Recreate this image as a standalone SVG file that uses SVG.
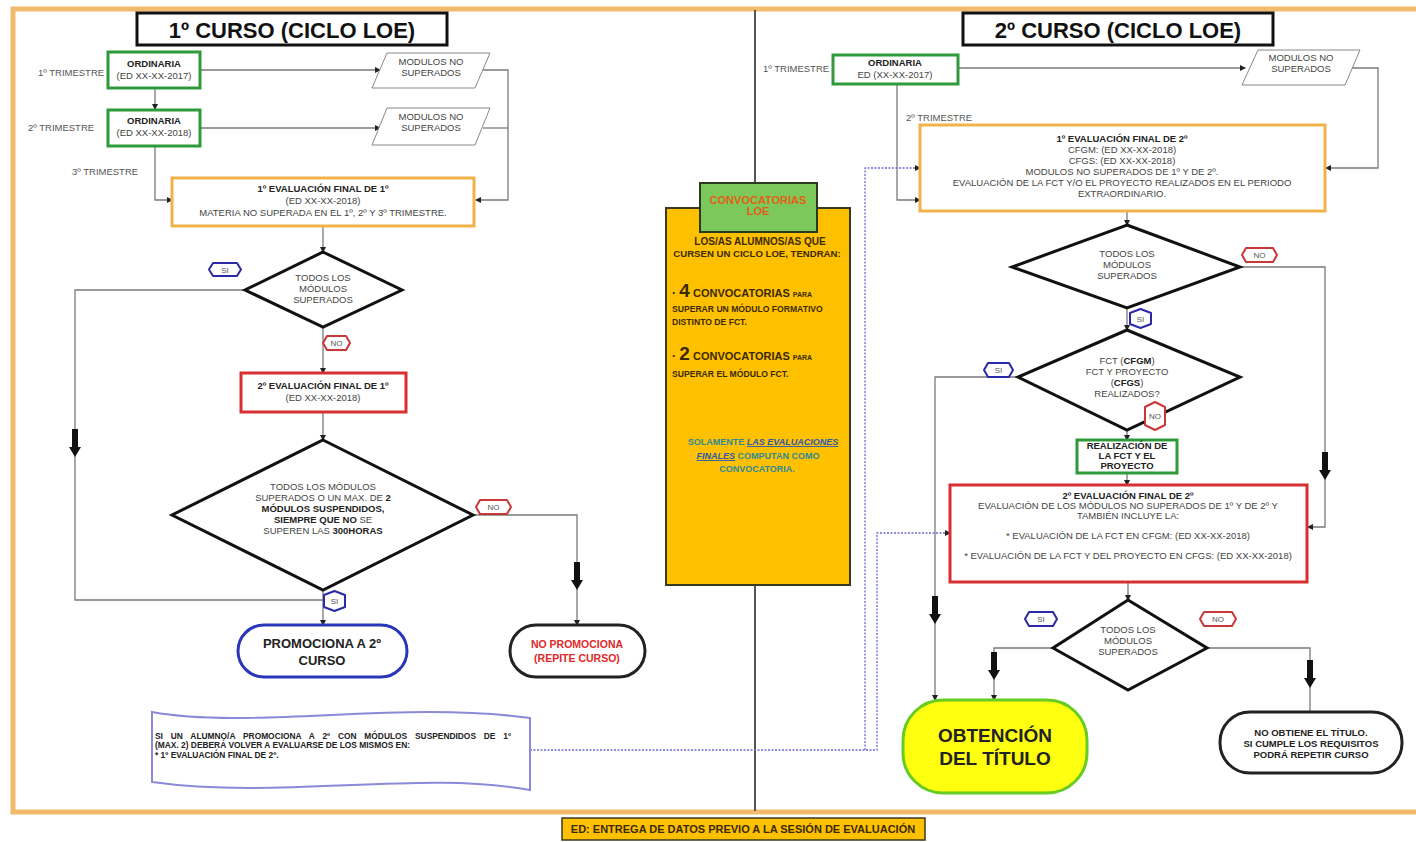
<svg xmlns="http://www.w3.org/2000/svg" width="1416" height="842" viewBox="0 0 1416 842">
<style>
text{font-family:"Liberation Sans",Arial,sans-serif;fill:#444;font-size:9.5px;text-anchor:middle}
.b{font-weight:bold;fill:#222}
.lbl{font-size:9.5px;fill:#555;text-anchor:start}
.title{font-size:22px;font-weight:bold;fill:#111}
.c{stroke:#7a7a7a;stroke-width:1.3;fill:none}
.cd{stroke:#6a6ad0;stroke-width:1.3;fill:none;stroke-dasharray:2 1.5}
.green{fill:#fff;stroke:#2e9a3a;stroke-width:3}
.orange{fill:#fff;stroke:#f2b24a;stroke-width:3}
.red{fill:#fff;stroke:#d83030;stroke-width:3}
.dia{fill:#fff;stroke:#111;stroke-width:3}
.para{fill:#fff;stroke:#888;stroke-width:1}
.si{fill:#fff;stroke:#2a2aa8;stroke-width:2;stroke-linejoin:round}
.no{fill:#fff;stroke:#c83838;stroke-width:2;stroke-linejoin:round}
.tag{font-size:8px;fill:#555}
.cal{font-family:"Liberation Sans",sans-serif;font-weight:bold;fill:#3a2a08}
</style>
<defs>
<marker id="ah" markerWidth="6" markerHeight="6" refX="5" refY="3" orient="auto" markerUnits="userSpaceOnUse">
<path d="M0,0 L6,3 L0,6 Z" fill="#222"/>
</marker>
<path id="big" d="M-3,-16 H3 V2 H6 L0,12 L-6,2 H-3 Z" fill="#111"/>
</defs>
<rect width="1416" height="842" fill="#fff"/>
<rect x="13" y="9" width="1420" height="803" fill="none" stroke="#f2bb6c" stroke-width="5"/>
<line x1="755" y1="10" x2="755" y2="185" stroke="#555" stroke-width="2"/>
<line x1="755" y1="585" x2="755" y2="811" stroke="#555" stroke-width="2"/>

<g id="title1"><rect x="137" y="13" width="310" height="32" fill="#fff" stroke="#111" stroke-width="3"/><text class="title" x="292" y="38">1º CURSO (CICLO LOE)</text></g>
<g id="title2"><rect x="963" y="13" width="310" height="32" fill="#fff" stroke="#111" stroke-width="3"/><text class="title" x="1118" y="38">2º CURSO (CICLO LOE)</text></g>

<g id="connectors">
<path class="c" d="M200,70 H380" marker-end="url(#ah)"/>
<path class="c" d="M155,88 V109" marker-end="url(#ah)"/>
<path class="c" d="M200,128 H380" marker-end="url(#ah)"/>
<path class="c" d="M483,70 H508 V200 H476" marker-end="url(#ah)"/>
<path class="c" d="M483,128 H508"/>
<path class="c" d="M155,146 V200 H172" marker-end="url(#ah)"/>
<path class="c" d="M323,226 V252" marker-end="url(#ah)"/>
<path class="c" d="M245,290 H75 V600 H323"/>
<path class="c" d="M323,327 V373" marker-end="url(#ah)"/>
<path class="c" d="M323,412 V440" marker-end="url(#ah)"/>
<path class="c" d="M323,590 V625" marker-end="url(#ah)"/>
<path class="c" d="M473,515 H577 V625" marker-end="url(#ah)"/>
<path class="c" d="M958,68 H1245" marker-end="url(#ah)"/>
<path class="c" d="M1352,68 H1378 V168 H1326" marker-end="url(#ah)"/>
<path class="c" d="M897,84 V200 H920" marker-end="url(#ah)"/>
<path class="c" d="M1127,211 V225" marker-end="url(#ah)"/>
<path class="c" d="M1240,267 H1325 V527 H1308" marker-end="url(#ah)"/>
<path class="c" d="M1127,308 V330" marker-end="url(#ah)"/>
<path class="c" d="M1018,377 H935 V700" marker-end="url(#ah)"/>
<path class="c" d="M1127,430 V440" marker-end="url(#ah)"/>
<path class="c" d="M1127,473 V485" marker-end="url(#ah)"/>
<path class="c" d="M1128,582 V600" marker-end="url(#ah)"/>
<path class="c" d="M1053,648 H994 V700" marker-end="url(#ah)"/>
<path class="c" d="M1207,648 H1310 V733" marker-end="url(#ah)"/>
<path class="cd" d="M530,750 H877 V533 H950" marker-end="url(#ah)"/>
<path class="cd" d="M865,750 V168 H920" marker-end="url(#ah)"/>
<use href="#big" x="75" y="445"/>
<use href="#big" x="577" y="578"/>
<use href="#big" x="1325" y="468"/>
<use href="#big" x="935" y="612"/>
<use href="#big" x="994" y="668"/>
<use href="#big" x="1310" y="676"/>
</g>

<g id="l-trim-labels">
<text class="lbl" x="38" y="76">1º TRIMESTRE</text>
<text class="lbl" x="28" y="131">2º TRIMESTRE</text>
<text class="lbl" x="72" y="175">3º TRIMESTRE</text>
</g>
<g id="ord1"><rect class="green" x="108" y="52" width="92" height="36"/><text class="b" x="154" y="67">ORDINARIA</text><text x="154" y="79">(ED XX-XX-2017)</text></g>
<g id="ord2"><rect class="green" x="108" y="110" width="92" height="36"/><text class="b" x="154" y="124">ORDINARIA</text><text x="154" y="136">(ED XX-XX-2018)</text></g>
<g id="mns1"><path class="para" d="M372,88 L387,53 L490,53 L475,88 Z"/><text x="431" y="65">MODULOS NO</text><text x="431" y="76">SUPERADOS</text></g>
<g id="mns2"><path class="para" d="M372,145 L387,108 L490,108 L475,145 Z"/><text x="431" y="120">MODULOS NO</text><text x="431" y="131">SUPERADOS</text></g>
<g id="eval1-1"><rect class="orange" x="172" y="178" width="302" height="48"/><text class="b" x="323" y="192">1º EVALUACIÓN FINAL DE 1º</text><text x="323" y="204">(ED XX-XX-2018)</text><text x="323" y="216">MATERIA NO SUPERADA EN EL 1º, 2º Y 3º TRIMESTRE.</text></g>
<g id="dia1"><path class="dia" d="M323,252 L402,290 L323,327 L245,290 Z"/><text x="323" y="281">TODOS LOS</text><text x="323" y="292">MÓDULOS</text><text x="323" y="303">SUPERADOS</text></g>
<g id="tag-si1"><path class="si" d="M213,263 H237 L241,269.5 L237,276 H213 L209,269.5 Z"/><text class="tag" x="225" y="272.5">SI</text></g>
<g id="tag-no1"><path class="no" d="M327,336 H346 L350,343 L346,350 H327 L323,343 Z"/><text class="tag" x="336.5" y="346">NO</text></g>
<g id="eval2-1"><rect class="red" x="241" y="373" width="165" height="39"/><text class="b" x="323" y="389">2º EVALUACIÓN FINAL DE 1º</text><text x="323" y="401">(ED XX-XX-2018)</text></g>
<g id="dia2"><path class="dia" d="M323,440 L473,515 L323,590 L172,515 Z"/>
<text x="323" y="490">TODOS LOS MÓDULOS</text>
<text x="323" y="501">SUPERADOS O UN MAX. DE <tspan class="b">2</tspan></text>
<text class="b" x="323" y="512">MÓDULOS SUSPENDIDOS,</text>
<text x="323" y="523"><tspan class="b">SIEMPRE QUE NO</tspan> SE</text>
<text x="323" y="534">SUPEREN LAS <tspan class="b">300HORAS</tspan></text></g>
<g id="tag-no2"><path class="no" d="M480,500 H507 L511,507 L507,514 H480 L476,507 Z"/><text class="tag" x="493.5" y="510">NO</text></g>
<g id="tag-si2"><path class="si" d="M324,595 L334.5,591 L345,595 V607 L334.5,611 L324,607 Z"/><text class="tag" x="334.5" y="604">SI</text></g>
<g id="promociona"><rect x="238" y="625" width="169" height="52" rx="26" fill="#fff" stroke="#2a36b8" stroke-width="3"/><text class="b" x="322" y="648" style="font-size:13px">PROMOCIONA A 2º</text><text class="b" x="322" y="665" style="font-size:13px">CURSO</text></g>
<g id="nopromociona"><rect x="510" y="625" width="135" height="52" rx="26" fill="#fff" stroke="#222" stroke-width="3"/><text class="b" x="577" y="648" style="font-size:10.5px;fill:#e02828">NO PROMOCIONA</text><text class="b" x="577" y="662" style="font-size:10.5px;fill:#e02828">(REPITE CURSO)</text></g>
<g id="nota"><path d="M152,712 C250,730 400,700 530,718 V790 C420,770 280,800 152,782 Z" fill="#fff" stroke="#8a8ad8" stroke-width="2"/>
<text class="b" x="155" y="739" style="text-anchor:start;font-size:8.4px;word-spacing:5.5px">SI UN ALUMNO/A PROMOCIONA A 2º CON MÓDULOS SUSPENDIDOS DE 1º</text>
<text class="b" x="155" y="748" style="text-anchor:start;font-size:8.4px">(MAX. 2) DEBERÁ VOLVER A EVALUARSE DE LOS MISMOS EN:</text>
<text class="b" x="155" y="758" style="text-anchor:start;font-size:8.4px">* 1º EVALUACIÓN FINAL DE 2º.</text></g>

<g id="convocatorias">
<rect x="666" y="208" width="184" height="377" fill="#ffc000" stroke="#3a3a20" stroke-width="2"/>
<rect x="700" y="183" width="117" height="49" fill="#7cc85a" stroke="#2a3a20" stroke-width="2"/>
<text class="cal" x="758" y="204" style="font-size:11px;fill:#e0601a">CONVOCATORIAS</text>
<text class="cal" x="758" y="215" style="font-size:11px;fill:#e0601a">LOE</text>
<text class="cal" x="760" y="245" style="font-size:10px">LOS/AS ALUMNOS/AS QUE</text>
<text class="cal" x="757" y="257" style="font-size:9.6px">CURSEN UN CICLO LOE, TENDRAN:</text>
<text class="cal" x="672" y="297" style="text-anchor:start;font-size:11px"><tspan style="font-size:12px">· </tspan><tspan style="font-size:19px">4</tspan> CONVOCATORIAS <tspan style="font-size:7px">PARA</tspan></text>
<text class="cal" x="672" y="312" style="text-anchor:start;font-size:8.6px">SUPERAR UN MÓDULO FORMATIVO</text>
<text class="cal" x="672" y="325" style="text-anchor:start;font-size:8.6px">DISTINTO DE FCT.</text>
<text class="cal" x="672" y="360" style="text-anchor:start;font-size:11px"><tspan style="font-size:12px">· </tspan><tspan style="font-size:19px">2</tspan> CONVOCATORIAS <tspan style="font-size:7px">PARA</tspan></text>
<text class="cal" x="672" y="377" style="text-anchor:start;font-size:8.6px">SUPERAR EL MÓDULO FCT.</text>
<text class="cal" x="763" y="445" style="font-size:9px;fill:#2e8a96">SOLAMENTE <tspan style="font-style:italic;text-decoration:underline;fill:#2a5ab0">LAS EVALUACIONES</tspan></text>
<text class="cal" x="758" y="459" style="font-size:9px;fill:#2e8a96"><tspan style="font-style:italic;text-decoration:underline;fill:#2a5ab0">FINALES</tspan>  COMPUTAN COMO</text>
<text class="cal" x="757" y="472" style="font-size:9px;fill:#2e8a96">CONVOCATORIA.</text>
</g>

<g id="r-trim-labels">
<text class="lbl" x="763" y="72">1º TRIMESTRE</text>
<text class="lbl" x="906" y="121">2º TRIMESTRE</text>
</g>
<g id="ord-r"><rect class="green" x="833" y="55" width="125" height="29"/><text class="b" x="895" y="66">ORDINARIA</text><text x="895" y="78">ED (XX-XX-2017)</text></g>
<g id="mns-r"><path class="para" d="M1242,85 L1258,50 L1360,50 L1345,85 Z"/><text x="1301" y="61">MODULOS NO</text><text x="1301" y="72">SUPERADOS</text></g>
<g id="eval1-2"><rect class="orange" x="920" y="125" width="405" height="86"/>
<text class="b" x="1122" y="142">1º EVALUACIÓN FINAL DE 2º</text>
<text x="1122" y="153">CFGM: (ED XX-XX-2018)</text>
<text x="1122" y="164">CFGS: (ED XX-XX-2018)</text>
<text x="1122" y="175">MODULOS NO SUPERADOS DE 1º Y DE 2º.</text>
<text x="1122" y="186">EVALUACIÓN DE LA FCT Y/O EL PROYECTO  REALIZADOS EN EL PERIODO</text>
<text x="1122" y="197">EXTRAORDINARIO.</text></g>
<g id="dia3"><path class="dia" d="M1127,225 L1240,267 L1127,308 L1012,267 Z"/><text x="1127" y="257">TODOS LOS</text><text x="1127" y="268">MÓDULOS</text><text x="1127" y="279">SUPERADOS</text></g>
<g id="tag-no3"><path class="no" d="M1246,248 H1273 L1277,255 L1273,262 H1246 L1242,255 Z"/><text class="tag" x="1259.5" y="258">NO</text></g>
<g id="tag-si3"><path class="si" d="M1130,313 L1140.5,309 L1151,313 V324 L1140.5,328 L1130,324 Z"/><text class="tag" x="1140.5" y="321.5">SI</text></g>
<g id="dia4"><path class="dia" d="M1127,330 L1240,377 L1127,430 L1018,377 Z"/>
<text x="1127" y="364">FCT  (<tspan class="b">CFGM</tspan>)</text>
<text x="1127" y="375">FCT Y PROYECTO</text>
<text x="1127" y="386">(<tspan class="b">CFGS</tspan>)</text>
<text x="1127" y="397">REALIZADOS?</text></g>
<g id="tag-si4"><path class="si" d="M988,363 H1009 L1013,370 L1009,377 H988 L984,370 Z"/><text class="tag" x="998.5" y="373">SI</text></g>
<g id="tag-no4"><path class="no" d="M1145,407 L1155,402 L1165,407 V425 L1155,430 L1145,425 Z"/><text class="tag" x="1155" y="419">NO</text></g>
<g id="realizacion"><rect class="green" x="1077" y="440" width="100" height="33"/><text class="b" x="1127" y="449">REALIZACIÓN DE</text><text class="b" x="1127" y="459">LA FCT Y EL</text><text class="b" x="1127" y="469">PROYECTO</text></g>
<g id="eval2-2"><rect class="red" x="950" y="485" width="357" height="97"/>
<text class="b" x="1128" y="499">2º EVALUACIÓN FINAL DE 2º</text>
<text x="1128" y="509">EVALUACIÓN DE LOS MÓDULOS NO SUPERADOS DE 1º Y DE 2º Y</text>
<text x="1128" y="519">TAMBIÉN INCLUYE LA:</text>
<text x="1128" y="539">* EVALUACIÓN DE LA FCT  EN CFGM: (ED XX-XX-2018)</text>
<text x="1128" y="559">* EVALUACIÓN DE LA FCT Y DEL PROYECTO EN CFGS: (ED XX-XX-2018)</text></g>
<g id="dia5"><path class="dia" d="M1128,600 L1207,648 L1128,690 L1053,648 Z"/><text x="1128" y="633">TODOS LOS</text><text x="1128" y="644">MÓDULOS</text><text x="1128" y="655">SUPERADOS</text></g>
<g id="tag-si5"><path class="si" d="M1029,612 H1053 L1057,619 L1053,626 H1029 L1025,619 Z"/><text class="tag" x="1041" y="622">SI</text></g>
<g id="tag-no5"><path class="no" d="M1204,612 H1232 L1236,619 L1232,626 H1204 L1200,619 Z"/><text class="tag" x="1218" y="622">NO</text></g>
<g id="obtencion"><rect x="903" y="700" width="184" height="93" rx="40" fill="#ffff10" stroke="#66cc22" stroke-width="3"/><text class="b" x="995" y="742" style="font-size:19px">OBTENCIÓN</text><text class="b" x="995" y="765" style="font-size:19px">DEL TÍTULO</text></g>
<g id="noobtiene"><rect x="1220" y="712" width="182" height="61" rx="30" fill="#fff" stroke="#222" stroke-width="3"/><text class="b" x="1311" y="736">NO OBTIENE EL TÍTULO.</text><text class="b" x="1311" y="747">SI CUMPLE LOS REQUISITOS</text><text class="b" x="1311" y="758">PODRÁ REPETIR CURSO</text></g>

<g id="ed-note"><rect x="562" y="818" width="363" height="22" fill="#ffc000" stroke="#3a3a20" stroke-width="1.5"/><text class="cal" x="743" y="833" style="font-size:11px">ED: ENTREGA DE DATOS PREVIO A LA SESIÓN DE EVALUACIÓN</text></g>
</svg>
